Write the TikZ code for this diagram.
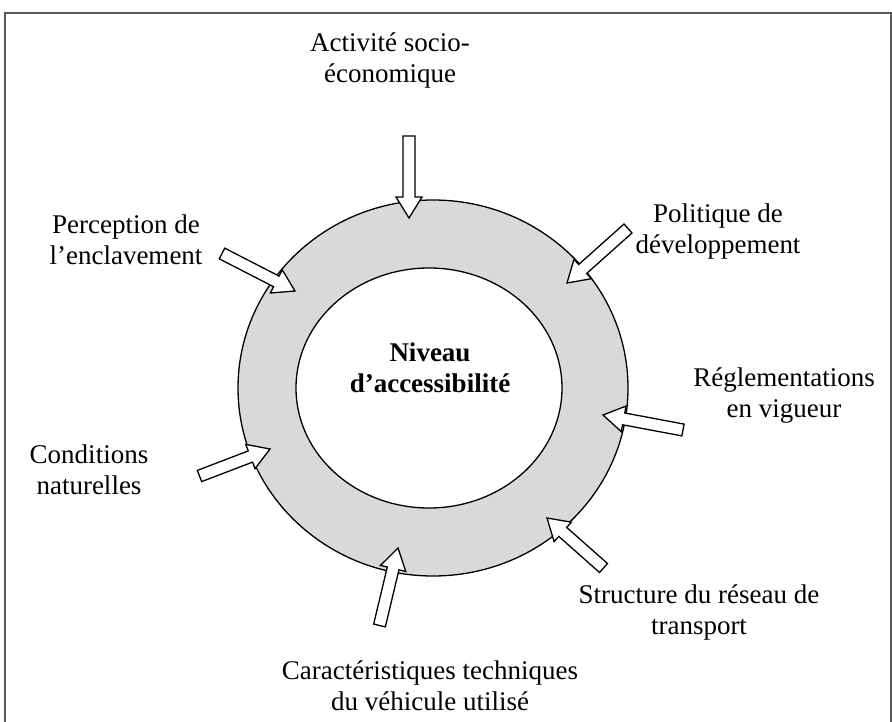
\documentclass[tikz,border=0pt]{standalone}
\usepackage{fontspec}
\setmainfont{Liberation Serif}
\usetikzlibrary{calc,shapes.geometric}
\tikzset{
  lbl/.style={align=center, inner sep=0pt, font=\fontsize{27}{31}\selectfont},
  ringline/.style={draw=black, line width=1.3pt},
  barrow/.style={draw=black, fill=white, line width=1.3pt, line join=miter},
  frameline/.style={draw=black!65, line width=1.4pt}
}
\newcommand\blockarr[2]{%
  \coordinate (#1hb) at ($(#2)!21pt!(#1)$);
  \draw[barrow] ($(#1)!6pt!90:(#2)$) -- ($(#1hb)!6pt!-90:(#1)$) -- ($(#1hb)!13pt!-90:(#1)$) -- (#2)
    -- ($(#1hb)!13pt!90:(#1)$) -- ($(#1hb)!6pt!90:(#1)$) -- ($(#1)!6pt!-90:(#2)$) -- cycle;}
\begin{document}
\begin{tikzpicture}[x=1pt,y=1pt]
\useasboundingbox (0,0) rectangle (892,-722);
% frame
\draw[frameline] (5,-722) -- (5,-13) -- (891,-13) -- (891,-722);
% ring
\node[ellipse, ringline, fill=black!15, minimum width=390pt, minimum height=376pt, inner sep=0pt] (outer) at (433,-388) {};
\node[ellipse, ringline, fill=white, minimum width=266pt, minimum height=240pt, inner sep=0pt] (inner) at (429,-388) {};
\node[lbl, font=\fontsize{27}{31}\selectfont\bfseries] (center) at (430,-368) {Niveau\\d’accessibilité};
% labels
\node[lbl] (act) at (390,-60) {Activité socio-\\économique};
\node[lbl] (perc) at (126,-240) {Perception de\\l’enclavement};
\node[lbl] (poli) at (718,-232) {Politique de\\développement};
\node[lbl] (regl) at (784,-396) {Réglementations\\en vigueur};
\node[lbl] (cond) at (89,-470) {Conditions\\naturelles};
\node[lbl] (stru) at (699,-612) {Structure du réseau de\\transport};
\node[lbl] (cara) at (430,-686) {Caractéristiques techniques\\du véhicule utilisé};
% arrow ends
\coordinate (a1) at (409,-136);   \coordinate (b1) at (409,-218);
\coordinate (a2) at (222,-253.5); \coordinate (b2) at (295,-291);
\coordinate (a3) at (628,-228.5); \coordinate (b3) at (567,-283);
\coordinate (a4) at (683,-430);   \coordinate (b4) at (603,-415);
\coordinate (a5) at (199.5,-476); \coordinate (b5) at (270,-449);
\coordinate (a6) at (603.5,-568); \coordinate (b6) at (547,-518);
\coordinate (a7) at (379.5,-625.5); \coordinate (b7) at (398,-548);
\blockarr{a1}{b1}
\blockarr{a2}{b2}
\blockarr{a3}{b3}
\blockarr{a4}{b4}
\blockarr{a5}{b5}
\blockarr{a6}{b6}
\blockarr{a7}{b7}
\end{tikzpicture}
\end{document}
